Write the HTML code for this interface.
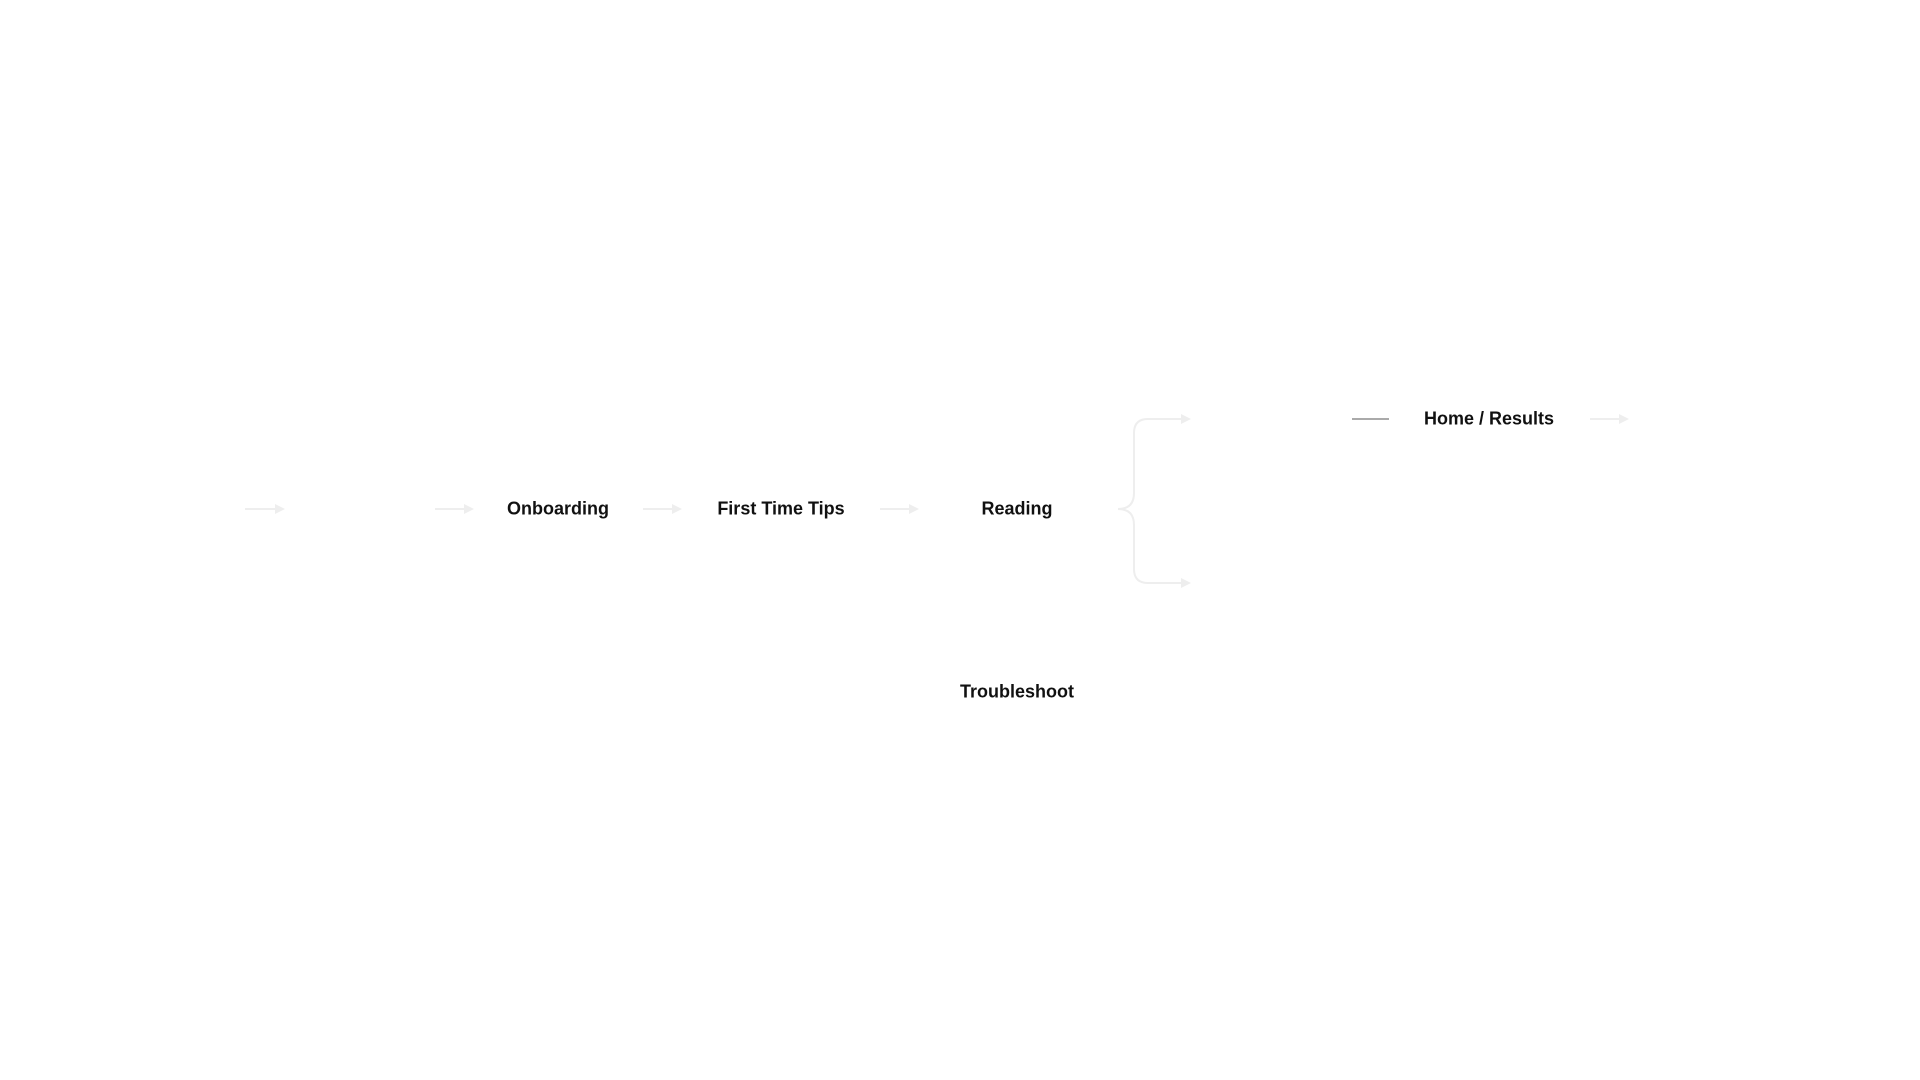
<!DOCTYPE html>
<html><head><meta charset="utf-8"><style>
html,body{margin:0;padding:0;background:#fff;width:1920px;height:1080px;overflow:hidden}
.t{position:absolute;font-family:"Liberation Sans",sans-serif;font-weight:bold;font-size:18px;color:#111;transform:translate(-50%,-50%);white-space:nowrap}
svg{position:absolute;left:0;top:0}
</style></head><body>
<svg width="1920" height="1080">
<defs><marker id="a" markerWidth="10" markerHeight="10" refX="8" refY="5" orient="auto" markerUnits="userSpaceOnUse"><path d="M0,0 L10,5 L0,10 z" fill="#eeeeee"/></marker></defs>
<g stroke="#eeeeee" stroke-width="2" fill="none">
<line x1="245" y1="509" x2="283" y2="509" marker-end="url(#a)"/>
<line x1="435" y1="509" x2="472" y2="509" marker-end="url(#a)"/>
<line x1="643" y1="509" x2="680" y2="509" marker-end="url(#a)"/>
<line x1="880" y1="509" x2="917" y2="509" marker-end="url(#a)"/>
<path d="M1118,509 Q1134,509 1134,493 L1134,433 Q1134,419 1148,419 L1189,419" marker-end="url(#a)"/>
<path d="M1118,509 Q1134,509 1134,525 L1134,569 Q1134,583 1148,583 L1189,583" marker-end="url(#a)"/>
<line x1="1590" y1="419" x2="1627" y2="419" marker-end="url(#a)"/>
</g>
<line x1="1352" y1="419" x2="1389" y2="419" stroke="#555" stroke-width="1"/>
</svg>
<div class="t" style="left:558px;top:509px">Onboarding</div>
<div class="t" style="left:781px;top:509px">First Time Tips</div>
<div class="t" style="left:1017px;top:509px">Reading</div>
<div class="t" style="left:1489px;top:419px">Home / Results</div>
<div class="t" style="left:1017px;top:692px">Troubleshoot</div>
</body></html>
